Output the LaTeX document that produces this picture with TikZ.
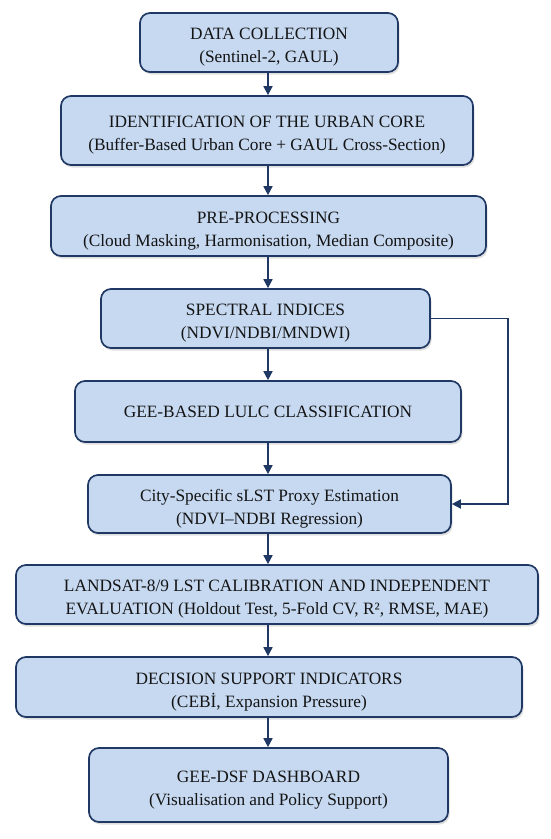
\documentclass[tikz,border=0pt]{standalone}
\usepackage{fontspec}
\setmainfont{Liberation Serif}
\usetikzlibrary{arrows.meta,shadows}
\definecolor{boxfill}{HTML}{C6D9F1}
\definecolor{navy}{HTML}{1F3864}
\definecolor{txt}{HTML}{141414}
\newcommand{\firststrut}{\rule{0pt}{21pt}}
\tikzset{
  stepbox/.style={draw=navy, line width=1.7pt, fill=boxfill, rounded corners=10pt,
    align=center, text=txt, inner sep=0pt,
    font=\fontsize{17.3}{23}\selectfont,
    drop shadow={shadow xshift=1.5pt, shadow yshift=-2.5pt, opacity=0.25, fill=gray}},
  arr/.style={draw=navy, line width=1.7pt, -{Triangle[length=9pt,width=9pt]}}
}
\begin{document}
\begin{tikzpicture}[x=1pt,y=-1pt]
\useasboundingbox (0,0) rectangle (550,839);
\coordinate (ax) at (268,0);
\coordinate (fb) at (508,0);
\node[stepbox, minimum width=258pt, minimum height=59pt] (n1) at (269,42.5)
  {\firststrut DATA COLLECTION\\(Sentinel-2, GAUL)};
\node[stepbox, minimum width=412pt, minimum height=69pt] (n2) at (267,130.5)
  {\firststrut IDENTIFICATION OF THE URBAN CORE\\(Buffer-Based Urban Core + GAUL Cross-Section)};
\node[stepbox, minimum width=435pt, minimum height=60pt] (n3) at (268.5,226)
  {\firststrut PRE-PROCESSING\\(Cloud Masking, Harmonisation, Median Composite)};
\node[stepbox, minimum width=329pt, minimum height=59pt] (n4) at (265.5,318.5)
  {\firststrut SPECTRAL INDICES\\(NDVI/NDBI/MNDWI)};
\node[stepbox, minimum width=386pt, minimum height=61pt] (n5) at (268,411.5)
  {GEE-BASED LULC CLASSIFICATION};
\node[stepbox, minimum width=363pt, minimum height=58pt] (n6) at (269.5,504)
  {\firststrut City-Specific sLST Proxy Estimation\\(NDVI–NDBI Regression)};
\node[stepbox, minimum width=522pt, minimum height=59pt] (n7) at (277,594.5)
  {\firststrut LANDSAT-8/9 LST CALIBRATION AND INDEPENDENT\\EVALUATION (Holdout Test, 5-Fold CV, R², RMSE, MAE)};
\node[stepbox, minimum width=506pt, minimum height=60pt] (n8) at (269,687)
  {\firststrut DECISION SUPPORT INDICATORS\\(CEBİ, Expansion Pressure)};
\node[stepbox, minimum width=359pt, minimum height=74pt] (n9) at (268.5,785)
  {\firststrut GEE-DSF DASHBOARD\\(Visualisation and Policy Support)};
\draw[arr] (n1.south -| ax) -- (n2.north -| ax);
\draw[arr] (n2.south -| ax) -- (n3.north -| ax);
\draw[arr] (n3.south -| ax) -- (n4.north -| ax);
\draw[arr] (n4.south -| ax) -- (n5.north -| ax);
\draw[arr] (n5.south -| ax) -- (n6.north -| ax);
\draw[arr] (n6.south -| ax) -- (n7.north -| ax);
\draw[arr] (n7.south -| ax) -- (n8.north -| ax);
\draw[arr] (n8.south -| ax) -- (n9.north -| ax);
\draw[arr] (n4.east) -- (n4.east -| fb) |- (n6.east);
\end{tikzpicture}
\end{document}
